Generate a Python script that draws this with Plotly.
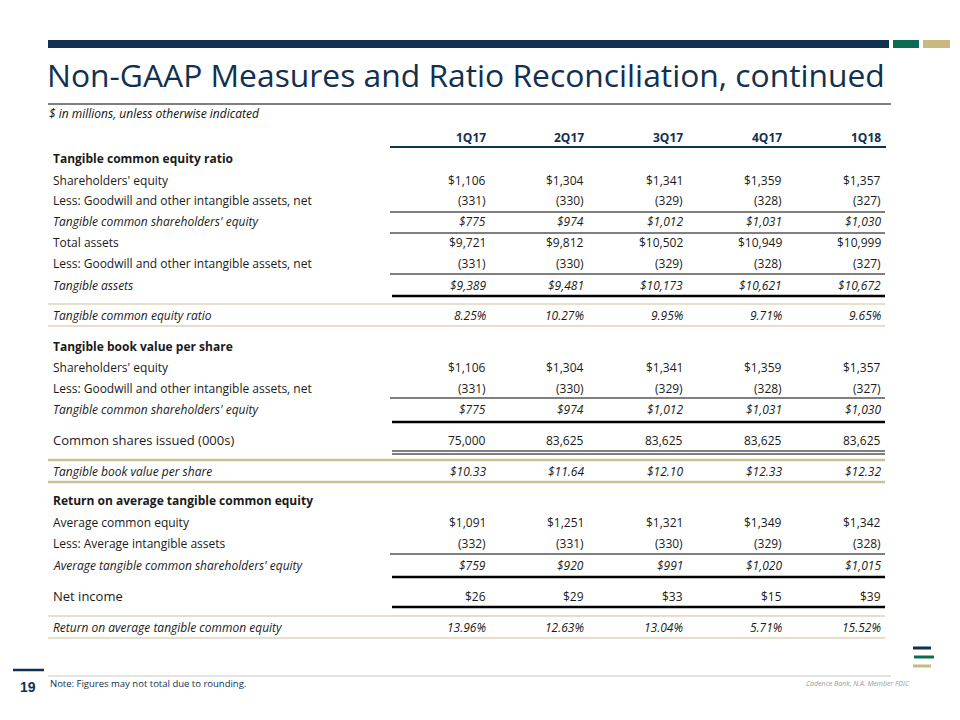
import plotly.graph_objects as go

# ---------------- data ----------------
quarters = ["1Q17", "2Q17", "3Q17", "4Q17", "1Q18"]

shareholders_equity = [1106, 1304, 1341, 1359, 1357]
goodwill_intangibles = [-331, -330, -329, -328, -327]
tangible_common_equity = [775, 974, 1012, 1031, 1030]
total_assets = [9721, 9812, 10502, 10949, 10999]
tangible_assets = [9389, 9481, 10173, 10621, 10672]
tce_ratio_pct = [8.25, 10.27, 9.95, 9.71, 9.65]
shares_issued_000s = [75000, 83625, 83625, 83625, 83625]
tbv_per_share = [10.33, 11.64, 12.10, 12.33, 12.32]
avg_common_equity = [1091, 1251, 1321, 1349, 1342]
avg_intangible_assets = [-332, -331, -330, -329, -328]
avg_tangible_equity = [759, 920, 991, 1020, 1015]
net_income = [26, 29, 33, 15, 39]
rotce_pct = [13.96, 12.63, 13.04, 5.71, 15.52]

title_text = "Non-GAAP Measures and Ratio Reconciliation, continued"
subtitle_text = "$ in millions, unless otherwise indicated"
note_text = "Note: Figures may not total due to rounding."
page_number = "19"
footer_text = "Cadence Bank, N.A. Member FDIC"


# ---------------- formatting ----------------
def f_dollar(v):
    return f"({abs(v):,})" if v < 0 else f"${v:,}"


def f_pct(v):
    return f"{v:.2f}%"


def f_share(v):
    return f"${v:.2f}"


def f_int(v):
    return f"{v:,}"


# rows: (label, values, formatter, style, below-rule)
rows = [
    ("Tangible common equity ratio", None, None, "bold", None),
    ("Shareholders' equity", shareholders_equity, f_dollar, "normal", None),
    ("Less: Goodwill and other intangible assets, net", goodwill_intangibles, f_dollar, "normal", "thin"),
    ("Tangible common shareholders' equity", tangible_common_equity, f_dollar, "italic", "thin"),
    ("Total assets", total_assets, f_dollar, "normal", None),
    ("Less: Goodwill and other intangible assets, net", goodwill_intangibles, f_dollar, "normal", "thin"),
    ("Tangible assets", tangible_assets, f_dollar, "italic", "thick"),
    ("Tangible common equity ratio", tce_ratio_pct, f_pct, "italic", "gold"),
    ("Tangible book value per share", None, None, "bold", None),
    ("Shareholders' equity", shareholders_equity, f_dollar, "normal", None),
    ("Less: Goodwill and other intangible assets, net", goodwill_intangibles, f_dollar, "normal", "thin"),
    ("Tangible common shareholders' equity", tangible_common_equity, f_dollar, "italic", "thick"),
    ("Common shares issued (000s)", shares_issued_000s, f_int, "normal_l", "double"),
    ("Tangible book value per share", tbv_per_share, f_share, "italic", "gold2"),
    ("Return on average tangible common equity", None, None, "bold", None),
    ("Average common equity", avg_common_equity, f_dollar, "normal", None),
    ("Less: Average intangible assets", avg_intangible_assets, f_dollar, "normal", "thin"),
    ("Average tangible common shareholders' equity", avg_tangible_equity, f_dollar, "italic", "thick"),
    ("Net income", net_income, f_dollar, "normal_l", "thick"),
    ("Return on average tangible common equity", rotce_pct, f_pct, "italic", "gold"),
]

# ---------------- layout geometry (page pixels) ----------------
W, H = 960, 720
PAGE_MARGIN = 8  # default body margin of the html page
row_y = [158, 180, 200, 221, 242, 263, 285, 315, 346, 367, 388, 409, 440, 471,
         500, 522, 543, 565, 596, 627]
rule_y = {2: 212, 3: 233, 5: 274, 6: 296, 10: 398, 11: 422, 12: 451, 16: 554, 17: 577, 18: 607}
gold_y = {7: (304, 326), 13: (460, 482), 19: (616, 638)}
col_right = [487, 585, 684, 783, 882]
label_x = 51
rule_x0, rule_x1 = 390, 885
full_x0 = 48

NAVY = "#12304f"
GREEN = "#0d6b55"
GOLD = "#c9b87f"
GOLD_RULE = "#cbbf9a"
TEXT = "#1a1a1a"
FONT = "Open Sans"
TSIZE = 12

fig = go.Figure()
shapes = []
ann = []


def line(x0, y0, x1, y1, color, width):
    shapes.append(dict(type="line", xref="x", yref="y", x0=x0, y0=y0, x1=x1, y1=y1,
                       line=dict(color=color, width=width)))


def rect(x0, y0, x1, y1, color):
    shapes.append(dict(type="rect", xref="x", yref="y", x0=x0, y0=y0, x1=x1, y1=y1,
                       fillcolor=color, line=dict(width=0)))


def text(x, y, s, size=TSIZE, color=TEXT, anchor="left", weight="normal", style="normal",
         family=FONT, yanchor="middle"):
    ann.append(dict(x=x, y=y, xref="x", yref="y", text=s, showarrow=False,
                    xanchor=anchor, yanchor=yanchor,
                    font=dict(family=family, size=size, color=color, weight=weight, style=style)))


# top bars
rect(48, 40, 889, 48, NAVY)
rect(893, 40, 919, 48, GREEN)
rect(923, 40, 950, 48, GOLD)

# title
text(45, 74, title_text, size=31.8, color=NAVY)
line(48, 104, 891, 104, "#000000", 1)
text(47, 113, subtitle_text, size=12, color="#111111", style="italic")

# header
for q, xr in zip(quarters, col_right):
    text(xr + 1, 137, f"<b>{q}</b>", size=TSIZE, color=NAVY, anchor="right")
line(rule_x0, 147, 886, 147, NAVY, 2)

# rows
for i, (label, vals, fmt, style, rule) in enumerate(rows):
    y = row_y[i]
    weight = "bold" if style == "bold" else "normal"
    fstyle = "italic" if style == "italic" else "normal"
    size = 13 if style == "normal_l" else TSIZE
    text(label_x, y, label, size=size, weight=weight, style=fstyle)
    if vals is not None:
        for v, xr in zip(vals, col_right):
            text(xr + 1, y, fmt(v), size=TSIZE, style=fstyle, anchor="right")
    if rule == "thin":
        line(rule_x0, rule_y[i], rule_x1, rule_y[i], "#000000", 1)
    elif rule == "thick":
        line(rule_x0 + 2, rule_y[i], rule_x1, rule_y[i], "#000000", 2.5)
    elif rule == "double":
        line(rule_x0 + 2, rule_y[i], rule_x1, rule_y[i], "#000000", 1)
        line(rule_x0 + 2, rule_y[i] + 3, rule_x1, rule_y[i] + 3, "#000000", 1)
    if i in gold_y:
        gw = 2.5 if rule == "gold2" else 1.2
        for gy in gold_y[i]:
            line(full_x0, gy, rule_x1, gy, GOLD_RULE, gw)

# footer
line(48, 676, 891, 676, "#c8c8c8", 1)
line(13, 670, 44, 670, NAVY, 2.5)
text(28, 687, f"<b>{page_number}</b>", size=14, color=NAVY, anchor="center", family="Liberation Sans")
text(48, 683, note_text, size=9.5, color=NAVY)
text(912, 683, footer_text, size=7, color="#9a9a9a", anchor="right", style="italic")
# logo bars
line(913, 648, 931, 648, NAVY, 3)
line(914, 657, 934, 657, GREEN, 3)
line(913, 666, 931, 666, GOLD, 3)

fig.update_layout(
    width=W - PAGE_MARGIN, height=H - PAGE_MARGIN,
    margin=dict(l=0, r=0, t=0, b=0),
    paper_bgcolor="white", plot_bgcolor="white",
    xaxis=dict(range=[PAGE_MARGIN, W], visible=False, fixedrange=True),
    yaxis=dict(range=[H, PAGE_MARGIN], visible=False, fixedrange=True),
    shapes=shapes, annotations=ann, showlegend=False,
)

fig.write_html("out.html", config={"displayModeBar": False})
